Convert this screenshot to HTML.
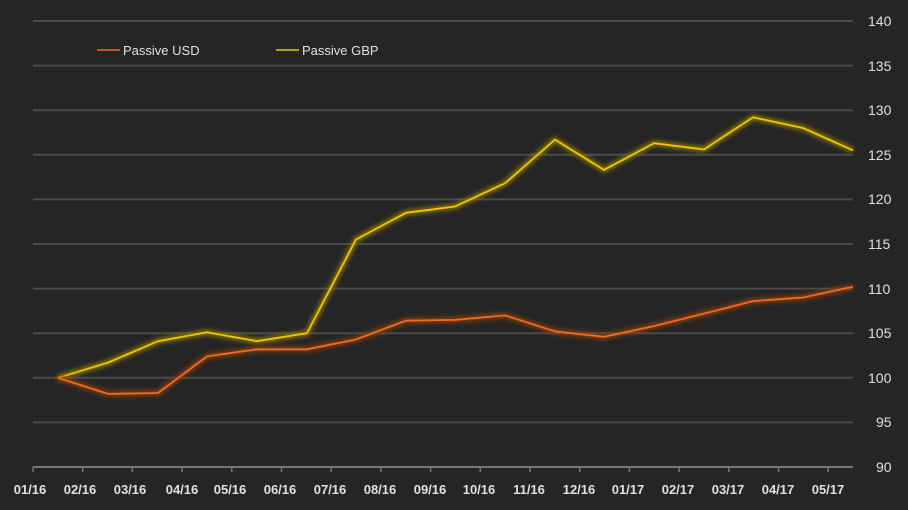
<!DOCTYPE html>
<html><head><style>
body{margin:0;background:#252525;}
svg{display:block}
text{font-family:"Liberation Sans",sans-serif;}
</style></head><body>
<svg width="908" height="510" viewBox="0 0 908 510">
<rect width="908" height="510" fill="#252525"/>
<defs>
<filter id="g" x="-10%" y="-10%" width="120%" height="120%"><feGaussianBlur stdDeviation="2.5"/></filter>
</defs>
<g stroke="#4a4a4a" stroke-width="2">
<line x1="33" x2="853" y1="21" y2="21"/>
<line x1="33" x2="853" y1="65.6" y2="65.6"/>
<line x1="33" x2="853" y1="110.2" y2="110.2"/>
<line x1="33" x2="853" y1="154.8" y2="154.8"/>
<line x1="33" x2="853" y1="199.4" y2="199.4"/>
<line x1="33" x2="853" y1="244" y2="244"/>
<line x1="33" x2="853" y1="288.6" y2="288.6"/>
<line x1="33" x2="853" y1="333.2" y2="333.2"/>
<line x1="33" x2="853" y1="377.8" y2="377.8"/>
<line x1="33" x2="853" y1="422.4" y2="422.4"/>
</g>
<line x1="33" x2="853" y1="467" y2="467" stroke="#777" stroke-width="2"/>
<g stroke="#777" stroke-width="1.5">
<line x1="33" x2="33" y1="467" y2="472"/><line x1="82.7" x2="82.7" y1="467" y2="472"/><line x1="132.4" x2="132.4" y1="467" y2="472"/><line x1="182.1" x2="182.1" y1="467" y2="472"/><line x1="231.8" x2="231.8" y1="467" y2="472"/><line x1="281.5" x2="281.5" y1="467" y2="472"/><line x1="331.2" x2="331.2" y1="467" y2="472"/><line x1="380.9" x2="380.9" y1="467" y2="472"/><line x1="430.6" x2="430.6" y1="467" y2="472"/><line x1="480.3" x2="480.3" y1="467" y2="472"/><line x1="530" x2="530" y1="467" y2="472"/><line x1="579.7" x2="579.7" y1="467" y2="472"/><line x1="629.4" x2="629.4" y1="467" y2="472"/><line x1="679.1" x2="679.1" y1="467" y2="472"/><line x1="728.8" x2="728.8" y1="467" y2="472"/><line x1="778.5" x2="778.5" y1="467" y2="472"/><line x1="828.2" x2="828.2" y1="467" y2="472"/>
</g>
<g fill="#e0e0e0" font-size="13" font-weight="bold" text-anchor="middle">
<text x="30" y="494">01/16</text><text x="80" y="494">02/16</text><text x="130" y="494">03/16</text><text x="182" y="494">04/16</text><text x="230" y="494">05/16</text><text x="280" y="494">06/16</text><text x="330" y="494">07/16</text><text x="380" y="494">08/16</text><text x="430" y="494">09/16</text><text x="479" y="494">10/16</text><text x="529" y="494">11/16</text><text x="579" y="494">12/16</text><text x="628" y="494">01/17</text><text x="678" y="494">02/17</text><text x="728" y="494">03/17</text><text x="778" y="494">04/17</text><text x="828" y="494">05/17</text>
</g>
<g fill="#e0e0e0" font-size="14" text-anchor="start">
<text x="868" y="26">140</text><text x="868" y="71">135</text><text x="868" y="115">130</text><text x="868" y="160">125</text><text x="868" y="204">120</text><text x="868" y="249">115</text><text x="868" y="294">110</text><text x="868" y="338">105</text><text x="868" y="383">100</text><text x="876" y="427">95</text><text x="876" y="472">90</text>
</g>
<line x1="97" x2="120" y1="50" y2="50" stroke="#f26a1b" stroke-width="1.5"/>
<text x="123" y="55" fill="#e0e0e0" font-size="13">Passive USD</text>
<line x1="276" x2="299" y1="50" y2="50" stroke="#f5c200" stroke-width="1.5"/>
<text x="302" y="55" fill="#e0e0e0" font-size="13">Passive GBP</text>
<polyline filter="url(#g)" fill="none" stroke="#8a7a00" stroke-width="5" points="58,377.8 108,362.6 158,341.2 207,332.3 257,341.2 307,333.2 356,239.5 406,212.8 455,206.5 505,183.3 555,139.6 604,169.9 654,143.2 704,149.4 753,117.3 803,128 853,150.3"/>
<polyline fill="none" stroke="#f5c200" stroke-width="1.8" points="58,377.8 108,362.6 158,341.2 207,332.3 257,341.2 307,333.2 356,239.5 406,212.8 455,206.5 505,183.3 555,139.6 604,169.9 654,143.2 704,149.4 753,117.3 803,128 853,150.3"/>
<polyline filter="url(#g)" fill="none" stroke="#8a4010" stroke-width="5" points="58,377.8 108,393.9 158,393 207,356.4 257,349.3 307,349.3 356,339.5 406,320.7 455,319.9 505,315.4 555,331.4 604,336.8 654,326.1 704,313.6 753,301.1 803,297.5 853,286.8"/>
<polyline fill="none" stroke="#f26a1b" stroke-width="1.8" points="58,377.8 108,393.9 158,393 207,356.4 257,349.3 307,349.3 356,339.5 406,320.7 455,319.9 505,315.4 555,331.4 604,336.8 654,326.1 704,313.6 753,301.1 803,297.5 853,286.8"/>
</svg>
</body></html>
